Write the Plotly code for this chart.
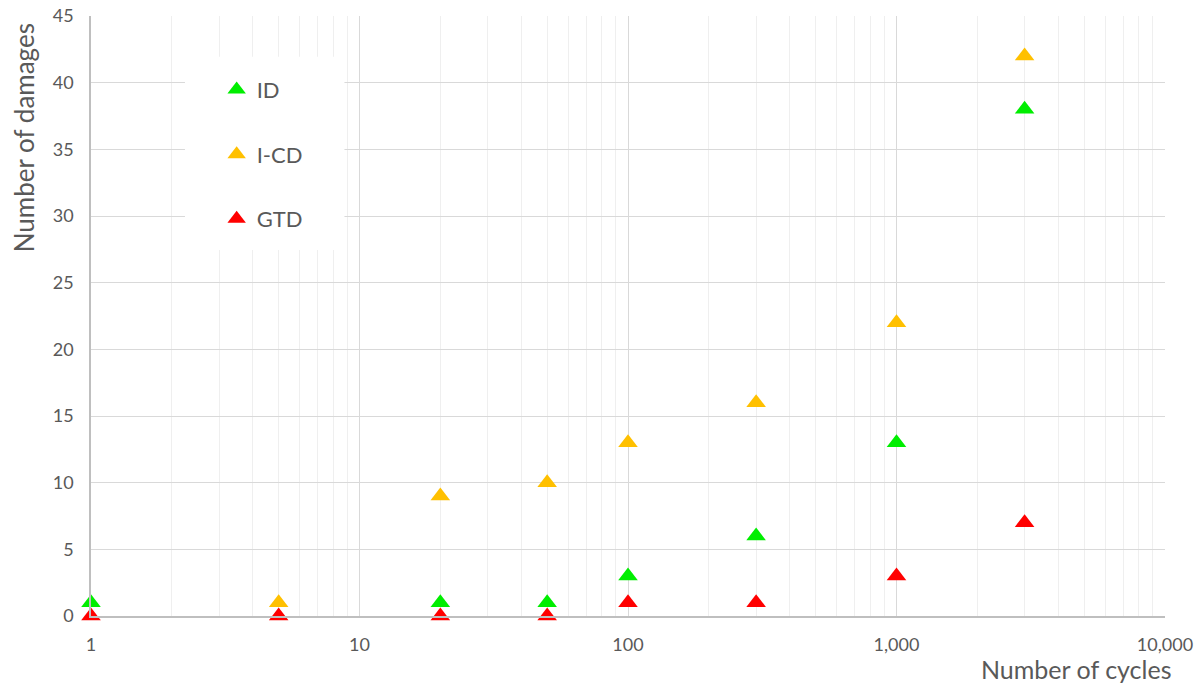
import plotly.graph_objects as go

id_x = [1, 20, 50, 100, 300, 1000, 3000]
id_y = [1, 1, 1, 3, 6, 13, 38]
icd_x = [5, 20, 50, 100, 300, 1000, 3000]
icd_y = [1, 9, 10, 13, 16, 22, 42]
gtd_x = [1, 5, 20, 50, 100, 300, 1000, 3000]
gtd_y = [0, 0, 0, 0, 1, 1, 3, 7]
x_ticks = [1, 10, 100, 1000, 10000]
x_tick_labels = ["1", "10", "100", "1,000", "10,000"]

FONT = "Lato, 'Open Sans', sans-serif"
GRAY = "#595959"

fig = go.Figure()
series = [("ID", id_x, id_y, "#00EE00"), ("I-CD", icd_x, icd_y, "#FFC000"), ("GTD", gtd_x, gtd_y, "#FF0000")]
for i, (name, xs, ys, col) in enumerate(series):
    fig.add_trace(go.Scatter(x=xs, y=ys, mode="markers", name=name, legendgroup=name,
                             marker=dict(symbol="triangle-up", size=17, color=col),
                             cliponaxis=False))

fig.update_layout(
    width=1200, height=684,
    margin=dict(l=91, r=35, t=16, b=68, autoexpand=False),
    paper_bgcolor="white", plot_bgcolor="white",
    font=dict(family=FONT, color=GRAY, size=18),
    showlegend=True,
    legend=dict(x=0.117, y=0.912, xanchor="left", yanchor="top", bgcolor="rgba(0,0,0,0)",
                font=dict(size=22, color=GRAY), tracegroupgap=33, itemwidth=30),
    xaxis=dict(type="log", range=[0, 4], tickvals=x_ticks, ticktext=x_tick_labels,
               showgrid=True, gridcolor="#D9D9D9", gridwidth=1, automargin=False,
               minor=dict(showgrid=True, gridcolor="#EFEFEF", dtick="D1", ticks=""),
               showline=True, linecolor="#BFBFBF", linewidth=1.5, mirror=False,
               ticks="", ticklabelstandoff=12, zeroline=False, ticklabeloverflow="allow",
               tickfont=dict(size=18, color=GRAY)),
    yaxis=dict(range=[0, 45], dtick=5, showgrid=True, gridcolor="#D9D9D9", automargin=False,
               showline=True, linecolor="#BFBFBF", linewidth=1.5, ticks="",
               zeroline=False, ticklabelstandoff=12, ticklabeloverflow="allow",
               tickfont=dict(size=18, color=GRAY)),
    shapes=[dict(type="rect", xref="paper", yref="paper", x0=0.0875, x1=0.236, y0=0.61, y1=0.932,
                 fillcolor="white", line=dict(width=0), layer="above")],
    annotations=[
        dict(text="Number of cycles", xref="paper", yref="paper", x=1.007, y=-0.06,
             xanchor="right", yanchor="top", showarrow=False, font=dict(size=25, color=GRAY)),
        dict(text="Number of damages", xref="paper", yref="paper", x=-0.0624, y=0.992,
             xanchor="center", yanchor="top", textangle=-90, showarrow=False,
             font=dict(size=26, color=GRAY)),
    ],
)

fig.write_html("out.html", config={"displayModeBar": False},
               post_script="document.body.style.margin='0';")
